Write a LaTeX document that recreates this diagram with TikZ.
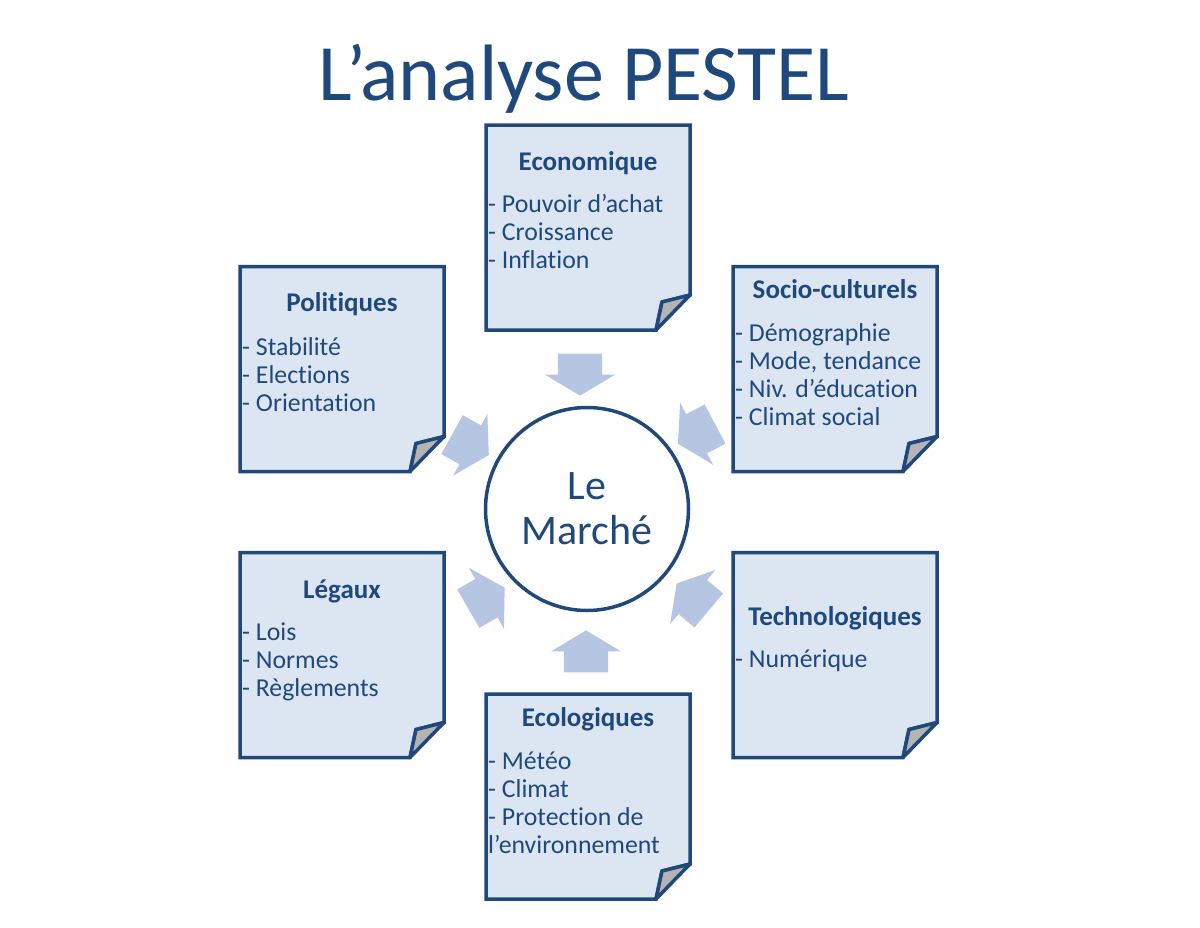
\documentclass[tikz,border=0pt]{standalone}
\usepackage{fontspec}
\setmainfont{Carlito}[Ligatures={TeX,NoCommon}]
\usepackage{tikz}
\usetikzlibrary{shapes.arrows}
\definecolor{PestelBlue}{RGB}{31,73,125}
\definecolor{PestelLine}{RGB}{33,72,122}
\definecolor{PestelPaper}{RGB}{220,230,242}
\definecolor{PestelArrow}{RGB}{182,198,226}
\definecolor{PestelFold}{RGB}{180,180,180}

\tikzset{
  feuille/.style={rectangle, minimum width=204, minimum height=205, inner sep=0, outer sep=0},
  titre/.style={anchor=base, inner sep=0, text=PestelBlue, font=\fontsize{27}{30}\selectfont\bfseries},
  liste/.style={anchor=base west, align=left, inner sep=0, text=PestelBlue, font=\fontsize{25.8}{28}\selectfont},
  fleche/.style={single arrow, fill=PestelArrow, minimum height=42, inner xsep=0, inner ysep=22,
    single arrow head extend=13, single arrow tip angle=118, outer sep=0}
}

\newcommand{\papier}[1]{%
  \filldraw[line width=3.5pt, draw=PestelLine, fill=PestelPaper]
    (#1.north west) -- (#1.north east) -- ([yshift=35pt]#1.south east)
    -- ([xshift=-28pt,yshift=28pt]#1.south east) -- ([xshift=-34pt]#1.south east)
    -- (#1.south west) -- cycle;
  \filldraw[line width=3.5pt, draw=PestelLine, fill=PestelFold, line join=round]
    ([yshift=35pt]#1.south east) -- ([xshift=-28pt,yshift=28pt]#1.south east)
    -- ([xshift=-34pt]#1.south east) -- cycle;}

\begin{document}
\begin{tikzpicture}[x=1pt, y=-1pt]
    \useasboundingbox (0,0) rectangle (1200,927);
    \node (Titre) [anchor=base, text=PestelBlue, font=\fontsize{80}{82}\selectfont] at (584,100) {L’analyse PESTEL};

    \node (Eco) [feuille] at (588,227.5) {};
    \node (Pol) [feuille] at (342,369) {};
    \node (Soc) [feuille] at (835,369) {};
    \node (Leg) [feuille] at (342,655) {};
    \node (Tec) [feuille] at (835,655) {};
    \node (Ecol) [feuille] at (588,796.5) {};
    \papier{Eco} \papier{Pol} \papier{Soc} \papier{Leg} \papier{Tec} \papier{Ecol}

    % base west = baseline of the last line
    \node (EcoTitre) [titre] at (588,170) {Economique};
    \node (EcoListe) [liste] at (488,268) {- Pouvoir d’achat\\- Croissance\\- Inflation};
    \node (PolTitre) [titre] at (342,311) {Politiques};
    \node (PolListe) [liste] at (242,411) {- Stabilité\\- Elections\\- Orientation};
    \node (SocTitre) [titre] at (835,298) {Socio-culturels};
    \node (SocListe) [liste] at (735,425) {- Démographie\\- Mode, tendance\\- Niv. d’éducation\\- Climat social};
    \node (LegTitre) [titre] at (342,598) {Légaux};
    \node (LegListe) [liste] at (242,696) {- Lois\\- Normes\\- Règlements};
    \node (TecTitre) [titre] at (835,625) {Technologiques};
    \node (TecListe) [liste] at (735,667) {- Numérique};
    \node (EcolTitre) [titre] at (588,726) {Ecologiques};
    \node (EcolListe) [liste] at (488,853) {- Météo\\- Climat\\- Protection de\\l’environnement};

    \node (Marche) [circle, draw=PestelLine, line width=3.5pt, minimum size=203, inner sep=0, align=center,
      text=PestelBlue, font=\fontsize{42}{45}\selectfont] at (587,509) {Le\\Marché};

    \node (FlecheEco) [fleche, rotate=-90] at (580,368) {};
    \node (FlechePol) [fleche, rotate=-29] at (464.6,441.6) {};
    \node (FlecheSoc) [fleche, rotate=-152] at (702.4,430.7) {};
    \node (FlecheLeg) [fleche, rotate=30] at (480.7,601.5) {};
    \node (FlecheTec) [fleche, rotate=140] at (697.8,601.2) {};
    \node (FlecheEcol) [fleche, rotate=90] at (586,658) {};
\end{tikzpicture}
\end{document}
